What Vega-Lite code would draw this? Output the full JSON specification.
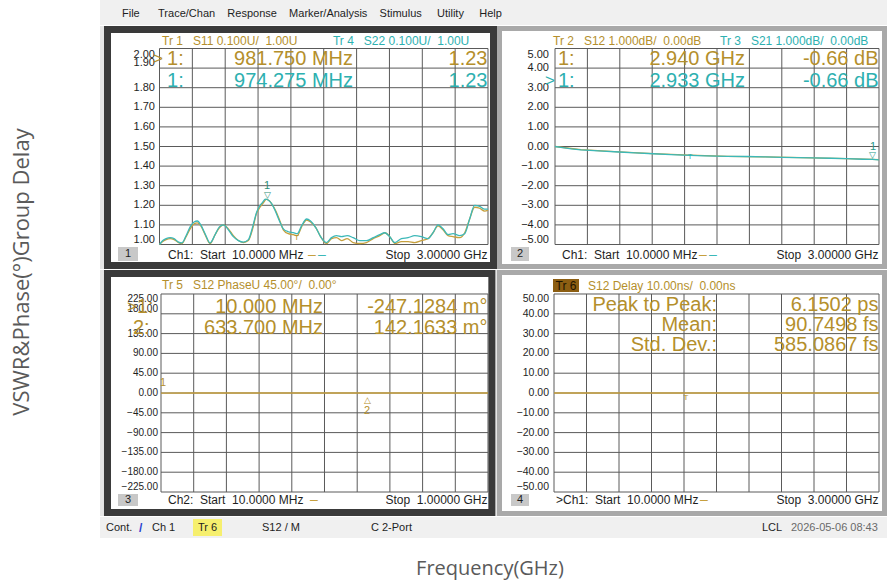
{
 "$schema": "https://vega.github.io/schema/vega-lite/v6.json",
 "padding": 0,
 "background": "#ffffff",
 "bounds": "flush",
 "columns": 3,
 "spacing": {"row": 1, "column": 0},
 "resolve": {"scale": {"x": "independent", "y": "independent", "color": "independent"}},
 "config": {
  "view": {"stroke": null},
  "text": {"font": "Liberation Sans", "baseline": "middle"}
 },
 "concat": [
  {"width": 100, "height": 25, "data": {"values": [{"t": ""}]}, "mark": {"type": "text", "opacity": 0}, "encoding": {"text": {"field": "t"}}},
  {"width": 397, "height": 25, "view": {"fill": "#f0f0f0", "stroke": null}, "data": {"values": [{"t": ""}]}, "mark": {"type": "text", "opacity": 0}, "encoding": {"text": {"field": "t"}}},
  {
   "width": 390, "height": 25,
   "view": {"fill": "#f0f0f0", "stroke": null},
   "data": {"values": [{"t": "File\u00a0\u00a0\u00a0\u00a0\u00a0\u00a0Trace/Chan\u00a0\u00a0\u00a0\u00a0Response\u00a0\u00a0\u00a0\u00a0Marker/Analysis\u00a0\u00a0\u00a0\u00a0Stimulus\u00a0\u00a0\u00a0\u00a0\u00a0Utility\u00a0\u00a0\u00a0\u00a0\u00a0Help"}]},
   "mark": {"type": "text", "align": "left", "fontSize": 11, "color": "#1e1e1e"},
   "encoding": {
    "x": {"datum": -375, "type": "quantitative", "scale": {"domain": [0, 390], "nice": false, "zero": false}, "axis": null},
    "y": {"datum": 11, "type": "quantitative", "scale": {"domain": [0, 25], "nice": false, "zero": false}, "axis": null},
    "text": {"field": "t"}
   }
  },
  {"width": 100, "height": 243, "data": {"values": [{"t": ""}]}, "mark": {"type": "text", "opacity": 0}, "encoding": {"text": {"field": "t"}}},
  {
   "width": 397, "height": 243,
   "view": {"fill": "#e6e6e6", "stroke": null},
   "layer": [
    {"data": {"values": [{"t": "1"}]}, "mark": {"type": "rect", "fill": "#ffffff", "stroke": "#3a3a3a", "strokeWidth": 7},
     "encoding": {
      "x": {"datum": -0.4633, "type": "quantitative", "scale": {"domain": [-0.53157, 3.08192], "nice": false, "zero": false}, "axis": null},
      "x2": {"datum": 3.0501},
      "y": {"datum": 2.0969, "type": "quantitative", "scale": {"domain": [0.875, 2.1148], "nice": false, "zero": false}, "axis": null},
      "y2": {"datum": 0.8929}
     }},
    {"data": {"values": [{"g": 1.0}, {"g": 1.1}, {"g": 1.2}, {"g": 1.3}, {"g": 1.4}, {"g": 1.5}, {"g": 1.6}, {"g": 1.7}, {"g": 1.8}, {"g": 1.9}, {"g": 2.0}]},
     "mark": {"type": "rule", "color": "#5a5a5a", "strokeWidth": 1},
     "encoding": {"y": {"field": "g", "type": "quantitative", "axis": null}, "x": {"datum": 0.01, "type": "quantitative", "axis": null}, "x2": {"datum": 3.0}}},
    {"data": {"values": [{"gx": 0.01}, {"gx": 0.309}, {"gx": 0.608}, {"gx": 0.907}, {"gx": 1.206}, {"gx": 1.505}, {"gx": 1.804}, {"gx": 2.103}, {"gx": 2.402}, {"gx": 2.701}, {"gx": 3.0}]},
     "mark": {"type": "rule", "color": "#5a5a5a", "strokeWidth": 1},
     "encoding": {"x": {"field": "gx", "type": "quantitative", "axis": null}, "y": {"datum": 1.0, "type": "quantitative", "axis": null}, "y2": {"datum": 2.0}}},
    {"data": {"values": [{"g": 1.1}, {"g": 1.2}, {"g": 1.3}, {"g": 1.4}, {"g": 1.5}, {"g": 1.6}, {"g": 1.7}, {"g": 1.8}]},
     "mark": {"type": "text", "align": "right", "baseline": "middle", "fontSize": 11, "color": "#1e1e1e"},
     "encoding": {"y": {"field": "g", "type": "quantitative", "axis": null}, "x": {"datum": -0.031, "type": "quantitative", "axis": null}, "text": {"field": "g", "type": "quantitative", "format": ".2f"}}},
    {"data": {"values": [{"g": 2.0}]},
     "mark": {"type": "text", "align": "right", "baseline": "top", "fontSize": 11, "color": "#1e1e1e"},
     "encoding": {"y": {"field": "g", "type": "quantitative", "axis": null}, "x": {"datum": -0.031, "type": "quantitative", "axis": null}, "text": {"field": "g", "type": "quantitative", "format": ".2f"}}},
    {"data": {"values": [{"g": 1.0}, {"g": 1.9}]},
     "mark": {"type": "text", "align": "right", "baseline": "bottom", "fontSize": 11, "color": "#1e1e1e"},
     "encoding": {"y": {"field": "g", "type": "quantitative", "axis": null}, "x": {"datum": -0.031, "type": "quantitative", "axis": null}, "text": {"field": "g", "type": "quantitative", "format": ".2f"}}},
    {"data": {"values": [
      {"f":0.01,"v":1.0},{"f":0.04,"v":1.015},{"f":0.07,"v":1.025},{"f":0.107,"v":1.03},{"f":0.143,"v":1.025},{"f":0.183,"v":1.01},{"f":0.213,"v":1.005},{"f":0.252,"v":1.04},{"f":0.289,"v":1.08},{"f":0.325,"v":1.105},{"f":0.355,"v":1.11},{"f":0.386,"v":1.095},{"f":0.425,"v":1.05},{"f":0.47,"v":1.005},{"f":0.516,"v":1.05},{"f":0.555,"v":1.085},{"f":0.592,"v":1.1},{"f":0.637,"v":1.08},{"f":0.682,"v":1.045},{"f":0.728,"v":1.02},{"f":0.773,"v":1.01},{"f":0.819,"v":1.02},{"f":0.858,"v":1.08},{"f":0.894,"v":1.16},{"f":0.925,"v":1.19},{"f":0.955,"v":1.213},{"f":0.982,"v":1.23},{"f":1.012,"v":1.222},{"f":1.04,"v":1.2},{"f":1.07,"v":1.17},{"f":1.106,"v":1.12},{"f":1.137,"v":1.075},{"f":1.182,"v":1.055},{"f":1.228,"v":1.05},{"f":1.264,"v":1.045},{"f":1.303,"v":1.09},{"f":1.349,"v":1.125},{"f":1.385,"v":1.115},{"f":1.434,"v":1.085},{"f":1.476,"v":1.04},{"f":1.53,"v":1.005},{"f":1.576,"v":1.03},{"f":1.621,"v":1.035},{"f":1.667,"v":1.02},{"f":1.718,"v":1.03},{"f":1.773,"v":1.01},{"f":1.833,"v":1.005},{"f":1.894,"v":1.01},{"f":1.955,"v":1.03},{"f":2.015,"v":1.045},{"f":2.061,"v":1.06},{"f":2.106,"v":1.04},{"f":2.152,"v":1.005},{"f":2.212,"v":1.015},{"f":2.273,"v":1.015},{"f":2.333,"v":1.01},{"f":2.394,"v":1.02},{"f":2.454,"v":1.03},{"f":2.5,"v":1.06},{"f":2.545,"v":1.095},{"f":2.591,"v":1.075},{"f":2.636,"v":1.045},{"f":2.682,"v":1.04},{"f":2.742,"v":1.035},{"f":2.788,"v":1.06},{"f":2.833,"v":1.13},{"f":2.878,"v":1.19},{"f":2.924,"v":1.185},{"f":2.97,"v":1.17},{"f":3.0,"v":1.175}]},
     "mark": {"type": "line", "color": "#c6a03e", "strokeWidth": 1.3, "interpolate": "monotone"},
     "encoding": {"x": {"field": "f", "type": "quantitative", "axis": null}, "y": {"field": "v", "type": "quantitative", "axis": null}}},
    {"data": {"values": [
      {"f":0.01,"v":1.0},{"f":0.04,"v":1.02},{"f":0.07,"v":1.03},{"f":0.107,"v":1.035},{"f":0.143,"v":1.03},{"f":0.183,"v":1.012},{"f":0.213,"v":1.008},{"f":0.252,"v":1.045},{"f":0.289,"v":1.09},{"f":0.325,"v":1.115},{"f":0.355,"v":1.12},{"f":0.386,"v":1.1},{"f":0.425,"v":1.055},{"f":0.47,"v":1.008},{"f":0.516,"v":1.05},{"f":0.555,"v":1.09},{"f":0.592,"v":1.1},{"f":0.637,"v":1.075},{"f":0.682,"v":1.04},{"f":0.728,"v":1.02},{"f":0.773,"v":1.012},{"f":0.819,"v":1.025},{"f":0.858,"v":1.09},{"f":0.894,"v":1.165},{"f":0.92,"v":1.195},{"f":0.948,"v":1.215},{"f":0.974,"v":1.232},{"f":1.005,"v":1.225},{"f":1.035,"v":1.205},{"f":1.065,"v":1.17},{"f":1.106,"v":1.115},{"f":1.137,"v":1.08},{"f":1.182,"v":1.065},{"f":1.228,"v":1.06},{"f":1.264,"v":1.055},{"f":1.303,"v":1.095},{"f":1.349,"v":1.13},{"f":1.385,"v":1.12},{"f":1.434,"v":1.085},{"f":1.476,"v":1.04},{"f":1.53,"v":1.01},{"f":1.576,"v":1.035},{"f":1.621,"v":1.045},{"f":1.667,"v":1.04},{"f":1.718,"v":1.045},{"f":1.773,"v":1.035},{"f":1.833,"v":1.02},{"f":1.894,"v":1.02},{"f":1.955,"v":1.035},{"f":2.015,"v":1.05},{"f":2.061,"v":1.06},{"f":2.106,"v":1.04},{"f":2.152,"v":1.01},{"f":2.212,"v":1.03},{"f":2.273,"v":1.035},{"f":2.333,"v":1.045},{"f":2.394,"v":1.04},{"f":2.454,"v":1.03},{"f":2.5,"v":1.06},{"f":2.545,"v":1.1},{"f":2.591,"v":1.08},{"f":2.636,"v":1.05},{"f":2.682,"v":1.055},{"f":2.742,"v":1.045},{"f":2.788,"v":1.055},{"f":2.833,"v":1.13},{"f":2.878,"v":1.2},{"f":2.924,"v":1.195},{"f":2.97,"v":1.18},{"f":3.0,"v":1.18}]},
     "mark": {"type": "line", "color": "#3cb8b8", "strokeWidth": 1.3, "interpolate": "monotone"},
     "encoding": {"x": {"field": "f", "type": "quantitative", "axis": null}, "y": {"field": "v", "type": "quantitative", "axis": null}}},
    {"data": {"values": [{"t": "Tr 1\u00a0\u00a0\u00a0S11 0.100U/\u00a0\u00a01.00U"}]}, "mark": {"type": "text", "align": "left", "fontSize": 12, "color": "#b48f2c"}, "encoding": {"x": {"datum": 0.0328, "type": "quantitative", "axis": null}, "y": {"datum": 2.0383, "type": "quantitative", "axis": null}, "text": {"field": "t"}}},
    {"data": {"values": [{"t": "Tr 4\u00a0\u00a0\u00a0S22 0.100U/\u00a0\u00a01.00U"}]}, "mark": {"type": "text", "align": "left", "fontSize": 12, "color": "#2db0b0"}, "encoding": {"x": {"datum": 1.589, "type": "quantitative", "axis": null}, "y": {"datum": 2.0383, "type": "quantitative", "axis": null}, "text": {"field": "t"}}},
    {"data": {"values": [{"t": ">"}]}, "mark": {"type": "text", "align": "left", "fontSize": 17, "color": "#b48f2c"}, "encoding": {"x": {"datum": -0.0492, "type": "quantitative", "axis": null}, "y": {"datum": 1.9464, "type": "quantitative", "axis": null}, "text": {"field": "t"}}},
    {"data": {"values": [{"t": "1:"}]}, "mark": {"type": "text", "align": "left", "fontSize": 20, "color": "#b48f2c"}, "encoding": {"x": {"datum": 0.0783, "type": "quantitative", "axis": null}, "y": {"datum": 1.9464, "type": "quantitative", "axis": null}, "text": {"field": "t"}}},
    {"data": {"values": [{"t": "981.750 MHz"}]}, "mark": {"type": "text", "align": "right", "fontSize": 20, "color": "#b48f2c"}, "encoding": {"x": {"datum": 1.7712, "type": "quantitative", "axis": null}, "y": {"datum": 1.9464, "type": "quantitative", "axis": null}, "text": {"field": "t"}}},
    {"data": {"values": [{"t": "1.23"}]}, "mark": {"type": "text", "align": "right", "fontSize": 20, "color": "#b48f2c"}, "encoding": {"x": {"datum": 2.9955, "type": "quantitative", "axis": null}, "y": {"datum": 1.9464, "type": "quantitative", "axis": null}, "text": {"field": "t"}}},
    {"data": {"values": [{"t": "1:"}]}, "mark": {"type": "text", "align": "left", "fontSize": 20, "color": "#2db0b0"}, "encoding": {"x": {"datum": 0.0783, "type": "quantitative", "axis": null}, "y": {"datum": 1.8342, "type": "quantitative", "axis": null}, "text": {"field": "t"}}},
    {"data": {"values": [{"t": "974.275 MHz"}]}, "mark": {"type": "text", "align": "right", "fontSize": 20, "color": "#2db0b0"}, "encoding": {"x": {"datum": 1.7712, "type": "quantitative", "axis": null}, "y": {"datum": 1.8342, "type": "quantitative", "axis": null}, "text": {"field": "t"}}},
    {"data": {"values": [{"t": "1.23"}]}, "mark": {"type": "text", "align": "right", "fontSize": 20, "color": "#2db0b0"}, "encoding": {"x": {"datum": 2.9955, "type": "quantitative", "axis": null}, "y": {"datum": 1.8342, "type": "quantitative", "axis": null}, "text": {"field": "t"}}},
    {"data": {"values": [{"t": "1"}]}, "mark": {"type": "text", "align": "center", "fontSize": 11, "color": "#2f8f78"}, "encoding": {"x": {"datum": 0.9885, "type": "quantitative", "axis": null}, "y": {"datum": 1.2985, "type": "quantitative", "axis": null}, "text": {"field": "t"}}},
    {"data": {"values": [{"t": "▽"}]}, "mark": {"type": "text", "align": "center", "fontSize": 9, "color": "#2f8f78"}, "encoding": {"x": {"datum": 0.9885, "type": "quantitative", "axis": null}, "y": {"datum": 1.2526, "type": "quantitative", "axis": null}, "text": {"field": "t"}}},
    {"data": {"values": [{"t": "T"}]}, "mark": {"type": "text", "align": "center", "fontSize": 8, "color": "#b48f2c"}, "encoding": {"x": {"datum": 1.259, "type": "quantitative", "axis": null}, "y": {"datum": 1.035, "type": "quantitative", "axis": null}, "text": {"field": "t"}}},
    {"data": {"values": [{"t": "1"}]}, "mark": {"type": "rect", "color": "#c8c8c8"}, "encoding": {"x": {"datum": -0.3677, "type": "quantitative", "axis": null}, "x2": {"datum": -0.1857}, "y": {"datum": 0.9872, "type": "quantitative", "axis": null}, "y2": {"datum": 0.9158}}},
    {"data": {"values": [{"t": "1"}]}, "mark": {"type": "text", "align": "center", "fontSize": 11, "color": "#1e1e1e"}, "encoding": {"x": {"datum": -0.2767, "type": "quantitative", "axis": null}, "y": {"datum": 0.9515, "type": "quantitative", "axis": null}, "text": {"field": "t"}}},
    {"data": {"values": [{"t": "Ch1:\u00a0\u00a0Start\u00a0\u00a010.0000 MHz"}]}, "mark": {"type": "text", "align": "left", "fontSize": 12, "color": "#1e1e1e"}, "encoding": {"x": {"datum": 0.0874, "type": "quantitative", "axis": null}, "y": {"datum": 0.9464, "type": "quantitative", "axis": null}, "text": {"field": "t"}}},
    {"data": {"values": [{"t": "–"}]}, "mark": {"type": "text", "align": "left", "fontSize": 14, "color": "#c6a03e"}, "encoding": {"x": {"datum": 1.3616, "type": "quantitative", "axis": null}, "y": {"datum": 0.9464, "type": "quantitative", "axis": null}, "text": {"field": "t"}}},
    {"data": {"values": [{"t": "–"}]}, "mark": {"type": "text", "align": "left", "fontSize": 14, "color": "#3cb8b8"}, "encoding": {"x": {"datum": 1.4526, "type": "quantitative", "axis": null}, "y": {"datum": 0.9464, "type": "quantitative", "axis": null}, "text": {"field": "t"}}},
    {"data": {"values": [{"t": "Stop\u00a0\u00a03.00000 GHz"}]}, "mark": {"type": "text", "align": "right", "fontSize": 12, "color": "#1e1e1e"}, "encoding": {"x": {"datum": 2.9955, "type": "quantitative", "axis": null}, "y": {"datum": 0.9464, "type": "quantitative", "axis": null}, "text": {"field": "t"}}}
   ]
  },
  {
   "width": 390, "height": 243,
   "view": {"fill": "#e6e6e6", "stroke": null},
   "layer": [
    {"data": {"values": [{"t": "2"}]}, "mark": {"type": "rect", "fill": "#ffffff", "stroke": "#a9a9a9", "strokeWidth": 5},
     "encoding": {
      "x": {"datum": -0.5022, "type": "quantitative", "scale": {"domain": [-0.52525, 3.07383], "nice": false, "zero": false}, "axis": null},
      "x2": {"datum": 3.0508},
      "y": {"datum": 6.0204, "type": "quantitative", "scale": {"domain": [-6.25, 6.148], "nice": false, "zero": false}, "axis": null},
      "y2": {"datum": -6.1224}
     }},
    {"data": {"values": [{"g": -5}, {"g": -4}, {"g": -3}, {"g": -2}, {"g": -1}, {"g": 0}, {"g": 1}, {"g": 2}, {"g": 3}, {"g": 4}, {"g": 5}]},
     "mark": {"type": "rule", "color": "#5a5a5a", "strokeWidth": 1},
     "encoding": {"y": {"field": "g", "type": "quantitative", "axis": null}, "x": {"datum": 0.01, "type": "quantitative", "axis": null}, "x2": {"datum": 3.0}}},
    {"data": {"values": [{"gx": 0.01}, {"gx": 0.309}, {"gx": 0.608}, {"gx": 0.907}, {"gx": 1.206}, {"gx": 1.505}, {"gx": 1.804}, {"gx": 2.103}, {"gx": 2.402}, {"gx": 2.701}, {"gx": 3.0}]},
     "mark": {"type": "rule", "color": "#5a5a5a", "strokeWidth": 1},
     "encoding": {"x": {"field": "gx", "type": "quantitative", "axis": null}, "y": {"datum": -5, "type": "quantitative", "axis": null}, "y2": {"datum": 5}}},
    {"data": {"values": [{"g": -4}, {"g": -3}, {"g": -2}, {"g": -1}, {"g": 0}, {"g": 1}, {"g": 2}, {"g": 3}, {"g": 4}]},
     "mark": {"type": "text", "align": "right", "baseline": "middle", "fontSize": 11, "color": "#1e1e1e"},
     "encoding": {"y": {"field": "g", "type": "quantitative", "axis": null}, "x": {"datum": -0.0454, "type": "quantitative", "axis": null}, "text": {"field": "g", "type": "quantitative", "format": ".2f"}}},
    {"data": {"values": [{"g": 5}]},
     "mark": {"type": "text", "align": "right", "baseline": "top", "fontSize": 11, "color": "#1e1e1e"},
     "encoding": {"y": {"field": "g", "type": "quantitative", "axis": null}, "x": {"datum": -0.0454, "type": "quantitative", "axis": null}, "text": {"field": "g", "type": "quantitative", "format": ".2f"}}},
    {"data": {"values": [{"g": -5}]},
     "mark": {"type": "text", "align": "right", "baseline": "bottom", "fontSize": 11, "color": "#1e1e1e"},
     "encoding": {"y": {"field": "g", "type": "quantitative", "axis": null}, "x": {"datum": -0.0454, "type": "quantitative", "axis": null}, "text": {"field": "g", "type": "quantitative", "format": ".2f"}}},
    {"data": {"values": [{"f":0.01,"v":0.0},{"f":0.25,"v":-0.16},{"f":0.6,"v":-0.27},{"f":0.914,"v":-0.36},{"f":1.256,"v":-0.44},{"f":1.6,"v":-0.5},{"f":1.95,"v":-0.53},{"f":2.39,"v":-0.58},{"f":2.7,"v":-0.62},{"f":2.94,"v":-0.66},{"f":3.0,"v":-0.67}]},
     "mark": {"type": "line", "color": "#c6a03e", "strokeWidth": 1.3},
     "encoding": {"x": {"field": "f", "type": "quantitative", "axis": null}, "y": {"field": "v", "type": "quantitative", "axis": null}}},
    {"data": {"values": [{"f":0.01,"v":0.0},{"f":0.08,"v":-0.06},{"f":0.16,"v":-0.12},{"f":0.25,"v":-0.17},{"f":0.333,"v":-0.2},{"f":0.45,"v":-0.24},{"f":0.6,"v":-0.28},{"f":0.75,"v":-0.33},{"f":0.914,"v":-0.37},{"f":1.08,"v":-0.41},{"f":1.256,"v":-0.45},{"f":1.4,"v":-0.48},{"f":1.6,"v":-0.5},{"f":1.782,"v":-0.51},{"f":1.95,"v":-0.53},{"f":2.1,"v":-0.55},{"f":2.25,"v":-0.57},{"f":2.39,"v":-0.58},{"f":2.55,"v":-0.6},{"f":2.7,"v":-0.62},{"f":2.85,"v":-0.65},{"f":2.94,"v":-0.66},{"f":3.0,"v":-0.68}]},
     "mark": {"type": "line", "color": "#3cb8b8", "strokeWidth": 1.3},
     "encoding": {"x": {"field": "f", "type": "quantitative", "axis": null}, "y": {"field": "v", "type": "quantitative", "axis": null}}},
    {"data": {"values": [{"t": "Tr 2\u00a0\u00a0\u00a0S12 1.000dB/\u00a0\u00a00.00dB"}]}, "mark": {"type": "text", "align": "left", "fontSize": 12, "color": "#b48f2c"}, "encoding": {"x": {"datum": -0.0085, "type": "quantitative", "axis": null}, "y": {"datum": 5.3826, "type": "quantitative", "axis": null}, "text": {"field": "t"}}},
    {"data": {"values": [{"t": "Tr 3\u00a0\u00a0\u00a0S21 1.000dB/\u00a0\u00a00.00dB"}]}, "mark": {"type": "text", "align": "left", "fontSize": 12, "color": "#2db0b0"}, "encoding": {"x": {"datum": 1.5327, "type": "quantitative", "axis": null}, "y": {"datum": 5.3826, "type": "quantitative", "axis": null}, "text": {"field": "t"}}},
    {"data": {"values": [{"t": "1:"}]}, "mark": {"type": "text", "align": "left", "fontSize": 20, "color": "#b48f2c"}, "encoding": {"x": {"datum": 0.0377, "type": "quantitative", "axis": null}, "y": {"datum": 4.4642, "type": "quantitative", "axis": null}, "text": {"field": "t"}}},
    {"data": {"values": [{"t": "2.940 GHz"}]}, "mark": {"type": "text", "align": "right", "fontSize": 20, "color": "#b48f2c"}, "encoding": {"x": {"datum": 1.7634, "type": "quantitative", "axis": null}, "y": {"datum": 4.4642, "type": "quantitative", "axis": null}, "text": {"field": "t"}}},
    {"data": {"values": [{"t": "-0.66 dB"}]}, "mark": {"type": "text", "align": "right", "fontSize": 20, "color": "#b48f2c"}, "encoding": {"x": {"datum": 2.9954, "type": "quantitative", "axis": null}, "y": {"datum": 4.4642, "type": "quantitative", "axis": null}, "text": {"field": "t"}}},
    {"data": {"values": [{"t": ">"}]}, "mark": {"type": "text", "align": "left", "fontSize": 17, "color": "#2db0b0"}, "encoding": {"x": {"datum": -0.0823, "type": "quantitative", "axis": null}, "y": {"datum": 3.3418, "type": "quantitative", "axis": null}, "text": {"field": "t"}}},
    {"data": {"values": [{"t": "1:"}]}, "mark": {"type": "text", "align": "left", "fontSize": 20, "color": "#2db0b0"}, "encoding": {"x": {"datum": 0.0377, "type": "quantitative", "axis": null}, "y": {"datum": 3.3418, "type": "quantitative", "axis": null}, "text": {"field": "t"}}},
    {"data": {"values": [{"t": "2.933 GHz"}]}, "mark": {"type": "text", "align": "right", "fontSize": 20, "color": "#2db0b0"}, "encoding": {"x": {"datum": 1.7634, "type": "quantitative", "axis": null}, "y": {"datum": 3.3418, "type": "quantitative", "axis": null}, "text": {"field": "t"}}},
    {"data": {"values": [{"t": "-0.66 dB"}]}, "mark": {"type": "text", "align": "right", "fontSize": 20, "color": "#2db0b0"}, "encoding": {"x": {"datum": 2.9954, "type": "quantitative", "axis": null}, "y": {"datum": 3.3418, "type": "quantitative", "axis": null}, "text": {"field": "t"}}},
    {"data": {"values": [{"t": "1"}]}, "mark": {"type": "text", "align": "center", "fontSize": 11, "color": "#2a9a8a"}, "encoding": {"x": {"datum": 2.9446, "type": "quantitative", "axis": null}, "y": {"datum": -0.026, "type": "quantitative", "axis": null}, "text": {"field": "t"}}},
    {"data": {"values": [{"t": "▽"}]}, "mark": {"type": "text", "align": "center", "fontSize": 9, "color": "#2a9a8a"}, "encoding": {"x": {"datum": 2.9446, "type": "quantitative", "axis": null}, "y": {"datum": -0.4337, "type": "quantitative", "axis": null}, "text": {"field": "t"}}},
    {"data": {"values": [{"t": "T"}]}, "mark": {"type": "text", "align": "center", "fontSize": 8, "color": "#2db0b0"}, "encoding": {"x": {"datum": 1.2558, "type": "quantitative", "axis": null}, "y": {"datum": -0.561, "type": "quantitative", "axis": null}, "text": {"field": "t"}}},
    {"data": {"values": [{"t": "2"}]}, "mark": {"type": "rect", "color": "#c8c8c8"}, "encoding": {"x": {"datum": -0.396, "type": "quantitative", "axis": null}, "x2": {"datum": -0.2299}, "y": {"datum": -5.1276, "type": "quantitative", "axis": null}, "y2": {"datum": -5.8418}}},
    {"data": {"values": [{"t": "2"}]}, "mark": {"type": "text", "align": "center", "fontSize": 11, "color": "#1e1e1e"}, "encoding": {"x": {"datum": -0.313, "type": "quantitative", "axis": null}, "y": {"datum": -5.4847, "type": "quantitative", "axis": null}, "text": {"field": "t"}}},
    {"data": {"values": [{"t": "Ch1:\u00a0\u00a0Start\u00a0\u00a010.0000 MHz"}]}, "mark": {"type": "text", "align": "left", "fontSize": 12, "color": "#1e1e1e"}, "encoding": {"x": {"datum": 0.0746, "type": "quantitative", "axis": null}, "y": {"datum": -5.5357, "type": "quantitative", "axis": null}, "text": {"field": "t"}}},
    {"data": {"values": [{"t": "–"}]}, "mark": {"type": "text", "align": "left", "fontSize": 14, "color": "#c6a03e"}, "encoding": {"x": {"datum": 1.3389, "type": "quantitative", "axis": null}, "y": {"datum": -5.5357, "type": "quantitative", "axis": null}, "text": {"field": "t"}}},
    {"data": {"values": [{"t": "–"}]}, "mark": {"type": "text", "align": "left", "fontSize": 14, "color": "#3cb8b8"}, "encoding": {"x": {"datum": 1.4312, "type": "quantitative", "axis": null}, "y": {"datum": -5.5357, "type": "quantitative", "axis": null}, "text": {"field": "t"}}},
    {"data": {"values": [{"t": "Stop\u00a0\u00a03.00000 GHz"}]}, "mark": {"type": "text", "align": "right", "fontSize": 12, "color": "#1e1e1e"}, "encoding": {"x": {"datum": 2.9954, "type": "quantitative", "axis": null}, "y": {"datum": -5.5357, "type": "quantitative", "axis": null}, "text": {"field": "t"}}}
   ]
  },
  {
   "width": 100, "height": 246,
   "data": {"values": [{"t": "VSWR&Phase(°)Group Delay"}]},
   "mark": {"type": "text", "angle": 270, "font": "Open Sans", "fontSize": 22, "color": "#5a5a5a", "align": "center", "baseline": "middle"},
   "encoding": {
    "x": {"datum": 22, "type": "quantitative", "scale": {"domain": [0, 100], "nice": false, "zero": false}, "axis": null},
    "y": {"datum": 244, "type": "quantitative", "scale": {"domain": [0, 246], "nice": false, "zero": false}, "axis": null},
    "text": {"field": "t"}
   }
  },
  {
   "width": 397, "height": 246,
   "view": {"fill": "#e6e6e6", "stroke": null},
   "layer": [
    {"data": {"values": [{"t": "3"}]}, "mark": {"type": "rect", "fill": "#ffffff", "stroke": "#3a3a3a", "strokeWidth": 7},
     "encoding": {
      "x": {"datum": -0.152, "type": "quantitative", "scale": {"domain": [-0.17468, 1.02725], "nice": false, "zero": false}, "axis": null},
      "x2": {"datum": 1.01164},
      "y": {"datum": 271.59, "type": "quantitative", "scale": {"domain": [-279.545, 279.545], "nice": false, "zero": false}, "axis": null},
      "y2": {"datum": -271.59}
     }},
    {"data": {"values": [{"g": -225}, {"g": -180}, {"g": -135}, {"g": -90}, {"g": -45}, {"g": 0}, {"g": 45}, {"g": 90}, {"g": 135}, {"g": 180}, {"g": 225}]},
     "mark": {"type": "rule", "color": "#5a5a5a", "strokeWidth": 1},
     "encoding": {"y": {"field": "g", "type": "quantitative", "axis": null}, "x": {"datum": 0.01, "type": "quantitative", "axis": null}, "x2": {"datum": 1.0}}},
    {"data": {"values": [{"gx": 0.01}, {"gx": 0.109}, {"gx": 0.208}, {"gx": 0.307}, {"gx": 0.406}, {"gx": 0.505}, {"gx": 0.604}, {"gx": 0.703}, {"gx": 0.802}, {"gx": 0.901}, {"gx": 1.0}]},
     "mark": {"type": "rule", "color": "#5a5a5a", "strokeWidth": 1},
     "encoding": {"x": {"field": "gx", "type": "quantitative", "axis": null}, "y": {"datum": -225, "type": "quantitative", "axis": null}, "y2": {"datum": 225}}},
    {"data": {"values": [{"g": -180}, {"g": -135}, {"g": -90}, {"g": -45}, {"g": 0}, {"g": 45}, {"g": 90}, {"g": 135}]},
     "mark": {"type": "text", "align": "right", "baseline": "middle", "fontSize": 10, "color": "#1e1e1e"},
     "encoding": {"y": {"field": "g", "type": "quantitative", "axis": null}, "x": {"datum": 0.0009, "type": "quantitative", "axis": null}, "text": {"field": "g", "type": "quantitative", "format": ".2f"}}},
    {"data": {"values": [{"g": 225}]},
     "mark": {"type": "text", "align": "right", "baseline": "top", "fontSize": 10, "color": "#1e1e1e"},
     "encoding": {"y": {"field": "g", "type": "quantitative", "axis": null}, "x": {"datum": 0.0009, "type": "quantitative", "axis": null}, "text": {"field": "g", "type": "quantitative", "format": ".2f"}}},
    {"data": {"values": [{"g": -225}, {"g": 180}]},
     "mark": {"type": "text", "align": "right", "baseline": "bottom", "fontSize": 10, "color": "#1e1e1e"},
     "encoding": {"y": {"field": "g", "type": "quantitative", "axis": null}, "x": {"datum": 0.0009, "type": "quantitative", "axis": null}, "text": {"field": "g", "type": "quantitative", "format": ".2f"}}},
    {"data": {"values": [{"f":0.01,"v":-0.247},{"f":0.1,"v":0.05},{"f":0.2,"v":-0.05},{"f":0.3,"v":0.08},{"f":0.4,"v":0.02},{"f":0.5,"v":0.1},{"f":0.6337,"v":0.142},{"f":0.75,"v":0.05},{"f":0.9,"v":0.0},{"f":1.0,"v":-0.1}]},
     "mark": {"type": "line", "color": "#c6a03e", "strokeWidth": 1.4},
     "encoding": {"x": {"field": "f", "type": "quantitative", "axis": null}, "y": {"field": "v", "type": "quantitative", "axis": null}}},
    {"data": {"values": [{"t": "Tr 5\u00a0\u00a0\u00a0S12 PhaseU 45.00°/\u00a0\u00a00.00°"}]}, "mark": {"type": "text", "align": "left", "fontSize": 12, "color": "#b48f2c"}, "encoding": {"x": {"datum": 0.013, "type": "quantitative", "axis": null}, "y": {"datum": 245.45, "type": "quantitative", "axis": null}, "text": {"field": "t"}}},
    {"data": {"values": [{"t": ">"}]}, "mark": {"type": "text", "align": "left", "fontSize": 17, "color": "#b48f2c"}, "encoding": {"x": {"datum": -0.0929, "type": "quantitative", "axis": null}, "y": {"datum": 195.45, "type": "quantitative", "axis": null}, "text": {"field": "t"}}},
    {"data": {"values": [{"t": "1:"}]}, "mark": {"type": "text", "align": "left", "fontSize": 20, "color": "#b48f2c"}, "encoding": {"x": {"datum": -0.0627, "type": "quantitative", "axis": null}, "y": {"datum": 195.45, "type": "quantitative", "axis": null}, "text": {"field": "t"}}},
    {"data": {"values": [{"t": "10.000 MHz"}]}, "mark": {"type": "text", "align": "right", "fontSize": 20, "color": "#b48f2c"}, "encoding": {"x": {"datum": 0.5005, "type": "quantitative", "axis": null}, "y": {"datum": 195.45, "type": "quantitative", "axis": null}, "text": {"field": "t"}}},
    {"data": {"values": [{"t": "-247.1284 m°"}]}, "mark": {"type": "text", "align": "right", "fontSize": 20, "color": "#b48f2c"}, "encoding": {"x": {"datum": 0.9985, "type": "quantitative", "axis": null}, "y": {"datum": 195.45, "type": "quantitative", "axis": null}, "text": {"field": "t"}}},
    {"data": {"values": [{"t": "2:"}]}, "mark": {"type": "text", "align": "left", "fontSize": 20, "color": "#b48f2c"}, "encoding": {"x": {"datum": -0.0748, "type": "quantitative", "axis": null}, "y": {"datum": 147.73, "type": "quantitative", "axis": null}, "text": {"field": "t"}}},
    {"data": {"values": [{"t": "633.700 MHz"}]}, "mark": {"type": "text", "align": "right", "fontSize": 20, "color": "#b48f2c"}, "encoding": {"x": {"datum": 0.5005, "type": "quantitative", "axis": null}, "y": {"datum": 147.73, "type": "quantitative", "axis": null}, "text": {"field": "t"}}},
    {"data": {"values": [{"t": "142.1633 m°"}]}, "mark": {"type": "text", "align": "right", "fontSize": 20, "color": "#b48f2c"}, "encoding": {"x": {"datum": 0.9985, "type": "quantitative", "axis": null}, "y": {"datum": 147.73, "type": "quantitative", "axis": null}, "text": {"field": "t"}}},
    {"data": {"values": [{"t": "1"}]}, "mark": {"type": "text", "align": "center", "fontSize": 11, "color": "#b48f2c"}, "encoding": {"x": {"datum": 0.016, "type": "quantitative", "axis": null}, "y": {"datum": 22.73, "type": "quantitative", "axis": null}, "text": {"field": "t"}}},
    {"data": {"values": [{"t": "△"}]}, "mark": {"type": "text", "align": "center", "fontSize": 9, "color": "#b48f2c"}, "encoding": {"x": {"datum": 0.6337, "type": "quantitative", "axis": null}, "y": {"datum": -15.9, "type": "quantitative", "axis": null}, "text": {"field": "t"}}},
    {"data": {"values": [{"t": "2"}]}, "mark": {"type": "text", "align": "center", "fontSize": 11, "color": "#b48f2c"}, "encoding": {"x": {"datum": 0.6337, "type": "quantitative", "axis": null}, "y": {"datum": -40.9, "type": "quantitative", "axis": null}, "text": {"field": "t"}}},
    {"data": {"values": [{"t": "3"}]}, "mark": {"type": "rect", "color": "#c8c8c8"}, "encoding": {"x": {"datum": -0.1202, "type": "quantitative", "axis": null}, "x2": {"datum": -0.0596}, "y": {"datum": -229.5, "type": "quantitative", "axis": null}, "y2": {"datum": -256.8}}},
    {"data": {"values": [{"t": "3"}]}, "mark": {"type": "text", "align": "center", "fontSize": 11, "color": "#1e1e1e"}, "encoding": {"x": {"datum": -0.0899, "type": "quantitative", "axis": null}, "y": {"datum": -243.2, "type": "quantitative", "axis": null}, "text": {"field": "t"}}},
    {"data": {"values": [{"t": "Ch2:\u00a0\u00a0Start\u00a0\u00a010.0000 MHz"}]}, "mark": {"type": "text", "align": "left", "fontSize": 12, "color": "#1e1e1e"}, "encoding": {"x": {"datum": 0.0312, "type": "quantitative", "axis": null}, "y": {"datum": -243.2, "type": "quantitative", "axis": null}, "text": {"field": "t"}}},
    {"data": {"values": [{"t": "–"}]}, "mark": {"type": "text", "align": "left", "fontSize": 14, "color": "#c6a03e"}, "encoding": {"x": {"datum": 0.4611, "type": "quantitative", "axis": null}, "y": {"datum": -243.2, "type": "quantitative", "axis": null}, "text": {"field": "t"}}},
    {"data": {"values": [{"t": "Stop\u00a0\u00a01.00000 GHz"}]}, "mark": {"type": "text", "align": "right", "fontSize": 12, "color": "#1e1e1e"}, "encoding": {"x": {"datum": 0.9985, "type": "quantitative", "axis": null}, "y": {"datum": -243.2, "type": "quantitative", "axis": null}, "text": {"field": "t"}}}
   ]
  },
  {
   "width": 390, "height": 246,
   "view": {"fill": "#e6e6e6", "stroke": null},
   "layer": [
    {"data": {"values": [{"t": "4"}]}, "mark": {"type": "rect", "fill": "#ffffff", "stroke": "#a9a9a9", "strokeWidth": 5},
     "encoding": {
      "x": {"datum": -0.4914, "type": "quantitative", "scale": {"domain": [-0.5144, 3.0736], "nice": false, "zero": false}, "axis": null},
      "x2": {"datum": 3.0506},
      "y": {"datum": 60.859, "type": "quantitative", "scale": {"domain": [-62.121, 62.121], "nice": false, "zero": false}, "axis": null},
      "y2": {"datum": -60.859}
     }},
    {"data": {"values": [{"g": -50}, {"g": -40}, {"g": -30}, {"g": -20}, {"g": -10}, {"g": 0}, {"g": 10}, {"g": 20}, {"g": 30}, {"g": 40}, {"g": 50}]},
     "mark": {"type": "rule", "color": "#5a5a5a", "strokeWidth": 1},
     "encoding": {"y": {"field": "g", "type": "quantitative", "axis": null}, "x": {"datum": 0.01, "type": "quantitative", "axis": null}, "x2": {"datum": 3.0}}},
    {"data": {"values": [{"gx": 0.01}, {"gx": 0.309}, {"gx": 0.608}, {"gx": 0.907}, {"gx": 1.206}, {"gx": 1.505}, {"gx": 1.804}, {"gx": 2.103}, {"gx": 2.402}, {"gx": 2.701}, {"gx": 3.0}]},
     "mark": {"type": "rule", "color": "#5a5a5a", "strokeWidth": 1},
     "encoding": {"x": {"field": "gx", "type": "quantitative", "axis": null}, "y": {"datum": -50, "type": "quantitative", "axis": null}, "y2": {"datum": 50}}},
    {"data": {"values": [{"g": -40}, {"g": -30}, {"g": -20}, {"g": -10}, {"g": 0}, {"g": 10}, {"g": 20}, {"g": 30}, {"g": 40}]},
     "mark": {"type": "text", "align": "right", "baseline": "middle", "fontSize": 10.5, "color": "#1e1e1e"},
     "encoding": {"y": {"field": "g", "type": "quantitative", "axis": null}, "x": {"datum": -0.036, "type": "quantitative", "axis": null}, "text": {"field": "g", "type": "quantitative", "format": ".2f"}}},
    {"data": {"values": [{"g": 50}]},
     "mark": {"type": "text", "align": "right", "baseline": "top", "fontSize": 10.5, "color": "#1e1e1e"},
     "encoding": {"y": {"field": "g", "type": "quantitative", "axis": null}, "x": {"datum": -0.036, "type": "quantitative", "axis": null}, "text": {"field": "g", "type": "quantitative", "format": ".2f"}}},
    {"data": {"values": [{"g": -50}]},
     "mark": {"type": "text", "align": "right", "baseline": "bottom", "fontSize": 10.5, "color": "#1e1e1e"},
     "encoding": {"y": {"field": "g", "type": "quantitative", "axis": null}, "x": {"datum": -0.036, "type": "quantitative", "axis": null}, "text": {"field": "g", "type": "quantitative", "format": ".2f"}}},
    {"data": {"values": [{"f":0.01,"v":0.001},{"f":0.3,"v":0.002},{"f":0.6,"v":-0.001},{"f":0.9,"v":0.0009},{"f":1.2,"v":0.003},{"f":1.5,"v":-0.002},{"f":1.8,"v":0.0},{"f":2.1,"v":0.001},{"f":2.4,"v":-0.002},{"f":2.7,"v":0.002},{"f":3.0,"v":0.0}]},
     "mark": {"type": "line", "color": "#c6a03e", "strokeWidth": 1.4},
     "encoding": {"x": {"field": "f", "type": "quantitative", "axis": null}, "y": {"field": "v", "type": "quantitative", "axis": null}}},
    {"data": {"values": [{"t": "Tr 6"}]}, "mark": {"type": "rect", "color": "#8c5e12"}, "encoding": {"x": {"datum": 0.0008, "type": "quantitative", "axis": null}, "x2": {"datum": 0.24}, "y": {"datum": 51.01, "type": "quantitative", "axis": null}, "y2": {"datum": 57.576}}},
    {"data": {"values": [{"t": "Tr 6"}]}, "mark": {"type": "text", "align": "center", "fontSize": 12, "color": "#1e1400"}, "encoding": {"x": {"datum": 0.1204, "type": "quantitative", "axis": null}, "y": {"datum": 54.29, "type": "quantitative", "axis": null}, "text": {"field": "t"}}},
    {"data": {"values": [{"t": "S12 Delay 10.00ns/\u00a0\u00a00.00ns"}]}, "mark": {"type": "text", "align": "left", "fontSize": 12, "color": "#b48f2c"}, "encoding": {"x": {"datum": 0.3228, "type": "quantitative", "axis": null}, "y": {"datum": 54.29, "type": "quantitative", "axis": null}, "text": {"field": "t"}}},
    {"data": {"values": [{"t": "Peak to Peak:"}]}, "mark": {"type": "text", "align": "right", "fontSize": 20, "color": "#b48f2c"}, "encoding": {"x": {"datum": 1.5096, "type": "quantitative", "axis": null}, "y": {"datum": 44.444, "type": "quantitative", "axis": null}, "text": {"field": "t"}}},
    {"data": {"values": [{"t": "6.1502 ps"}]}, "mark": {"type": "text", "align": "right", "fontSize": 20, "color": "#b48f2c"}, "encoding": {"x": {"datum": 2.9954, "type": "quantitative", "axis": null}, "y": {"datum": 44.444, "type": "quantitative", "axis": null}, "text": {"field": "t"}}},
    {"data": {"values": [{"t": "Mean:"}]}, "mark": {"type": "text", "align": "right", "fontSize": 20, "color": "#b48f2c"}, "encoding": {"x": {"datum": 1.5096, "type": "quantitative", "axis": null}, "y": {"datum": 34.343, "type": "quantitative", "axis": null}, "text": {"field": "t"}}},
    {"data": {"values": [{"t": "90.7498 fs"}]}, "mark": {"type": "text", "align": "right", "fontSize": 20, "color": "#b48f2c"}, "encoding": {"x": {"datum": 2.9954, "type": "quantitative", "axis": null}, "y": {"datum": 34.343, "type": "quantitative", "axis": null}, "text": {"field": "t"}}},
    {"data": {"values": [{"t": "Std. Dev.:"}]}, "mark": {"type": "text", "align": "right", "fontSize": 20, "color": "#b48f2c"}, "encoding": {"x": {"datum": 1.5096, "type": "quantitative", "axis": null}, "y": {"datum": 24.242, "type": "quantitative", "axis": null}, "text": {"field": "t"}}},
    {"data": {"values": [{"t": "585.0867 fs"}]}, "mark": {"type": "text", "align": "right", "fontSize": 20, "color": "#b48f2c"}, "encoding": {"x": {"datum": 2.9954, "type": "quantitative", "axis": null}, "y": {"datum": 24.242, "type": "quantitative", "axis": null}, "text": {"field": "t"}}},
    {"data": {"values": [{"t": "T"}]}, "mark": {"type": "text", "align": "center", "fontSize": 8, "color": "#b48f2c"}, "encoding": {"x": {"datum": 1.2244, "type": "quantitative", "axis": null}, "y": {"datum": -2.53, "type": "quantitative", "axis": null}, "text": {"field": "t"}}},
    {"data": {"values": [{"t": "4"}]}, "mark": {"type": "rect", "color": "#c8c8c8"}, "encoding": {"x": {"datum": -0.3856, "type": "quantitative", "axis": null}, "x2": {"datum": -0.22}, "y": {"datum": -51.01, "type": "quantitative", "axis": null}, "y2": {"datum": -57.07}}},
    {"data": {"values": [{"t": "4"}]}, "mark": {"type": "text", "align": "center", "fontSize": 11, "color": "#1e1e1e"}, "encoding": {"x": {"datum": -0.3028, "type": "quantitative", "axis": null}, "y": {"datum": -54.04, "type": "quantitative", "axis": null}, "text": {"field": "t"}}},
    {"data": {"values": [{"t": ">Ch1:\u00a0\u00a0Start\u00a0\u00a010.0000 MHz"}]}, "mark": {"type": "text", "align": "left", "fontSize": 12, "color": "#1e1e1e"}, "encoding": {"x": {"datum": 0.0284, "type": "quantitative", "axis": null}, "y": {"datum": -54.04, "type": "quantitative", "axis": null}, "text": {"field": "t"}}},
    {"data": {"values": [{"t": "–"}]}, "mark": {"type": "text", "align": "left", "fontSize": 14, "color": "#c6a03e"}, "encoding": {"x": {"datum": 1.3532, "type": "quantitative", "axis": null}, "y": {"datum": -54.04, "type": "quantitative", "axis": null}, "text": {"field": "t"}}},
    {"data": {"values": [{"t": "Stop\u00a0\u00a03.00000 GHz"}]}, "mark": {"type": "text", "align": "right", "fontSize": 12, "color": "#1e1e1e"}, "encoding": {"x": {"datum": 2.9954, "type": "quantitative", "axis": null}, "y": {"datum": -54.04, "type": "quantitative", "axis": null}, "text": {"field": "t"}}}
   ]
  },
  {"width": 100, "height": 21, "data": {"values": [{"t": ""}]}, "mark": {"type": "text", "opacity": 0}, "encoding": {"text": {"field": "t"}}},
  {
   "width": 397, "height": 21,
   "view": {"fill": "#f0f0f0", "stroke": null},
   "layer": [
    {"data": {"values": [{"t": "Tr 6"}]}, "mark": {"type": "rect", "color": "#f6ef6e"}, "encoding": {"x": {"datum": 93, "type": "quantitative", "scale": {"domain": [0, 397], "nice": false, "zero": false}, "axis": null}, "x2": {"datum": 122}, "y": {"datum": 2, "type": "quantitative", "scale": {"domain": [0, 21], "nice": false, "zero": false}, "axis": null}, "y2": {"datum": 19}}},
    {"data": {"values": [{"t": "Cont."}]}, "mark": {"type": "text", "align": "left", "fontSize": 11, "color": "#1e1e1e"}, "encoding": {"x": {"datum": 6, "type": "quantitative", "axis": null}, "y": {"datum": 10.5, "type": "quantitative", "axis": null}, "text": {"field": "t"}}},
    {"data": {"values": [{"t": "/"}]}, "mark": {"type": "text", "align": "left", "fontSize": 12, "fontWeight": "bold", "color": "#2a3fd0"}, "encoding": {"x": {"datum": 39, "type": "quantitative", "axis": null}, "y": {"datum": 10.5, "type": "quantitative", "axis": null}, "text": {"field": "t"}}},
    {"data": {"values": [{"t": "Ch 1"}]}, "mark": {"type": "text", "align": "left", "fontSize": 11, "color": "#1e1e1e"}, "encoding": {"x": {"datum": 52, "type": "quantitative", "axis": null}, "y": {"datum": 10.5, "type": "quantitative", "axis": null}, "text": {"field": "t"}}},
    {"data": {"values": [{"t": "Tr 6"}]}, "mark": {"type": "text", "align": "left", "fontSize": 11, "color": "#1e1e1e"}, "encoding": {"x": {"datum": 98, "type": "quantitative", "axis": null}, "y": {"datum": 10.5, "type": "quantitative", "axis": null}, "text": {"field": "t"}}},
    {"data": {"values": [{"t": "S12 / M"}]}, "mark": {"type": "text", "align": "left", "fontSize": 11, "color": "#1e1e1e"}, "encoding": {"x": {"datum": 162, "type": "quantitative", "axis": null}, "y": {"datum": 10.5, "type": "quantitative", "axis": null}, "text": {"field": "t"}}},
    {"data": {"values": [{"t": "C 2-Port"}]}, "mark": {"type": "text", "align": "left", "fontSize": 11, "color": "#1e1e1e"}, "encoding": {"x": {"datum": 271, "type": "quantitative", "axis": null}, "y": {"datum": 10.5, "type": "quantitative", "axis": null}, "text": {"field": "t"}}}
   ]
  },
  {
   "width": 390, "height": 21,
   "view": {"fill": "#f0f0f0", "stroke": null},
   "layer": [
    {"data": {"values": [{"t": "LCL"}]}, "mark": {"type": "text", "align": "left", "fontSize": 11, "color": "#1e1e1e"}, "encoding": {"x": {"datum": 265, "type": "quantitative", "scale": {"domain": [0, 390], "nice": false, "zero": false}, "axis": null}, "y": {"datum": 10.5, "type": "quantitative", "scale": {"domain": [0, 21], "nice": false, "zero": false}, "axis": null}, "text": {"field": "t"}}},
    {"data": {"values": [{"t": "2026-05-06 08:43"}]}, "mark": {"type": "text", "align": "left", "fontSize": 11, "color": "#6a6a6a"}, "encoding": {"x": {"datum": 294, "type": "quantitative", "axis": null}, "y": {"datum": 10.5, "type": "quantitative", "axis": null}, "text": {"field": "t"}}}
   ]
  },
  {"width": 100, "height": 49, "data": {"values": [{"t": ""}]}, "mark": {"type": "text", "opacity": 0}, "encoding": {"text": {"field": "t"}}},
  {
   "width": 397, "height": 49,
   "data": {"values": [{"t": "Frequency(GHz)"}]},
   "mark": {"type": "text", "align": "center", "baseline": "middle", "font": "Open Sans", "fontSize": 20, "color": "#5a5a5a"},
   "encoding": {
    "x": {"datum": 390, "type": "quantitative", "scale": {"domain": [0, 397], "nice": false, "zero": false}, "axis": null},
    "y": {"datum": 19, "type": "quantitative", "scale": {"domain": [0, 49], "nice": false, "zero": false}, "axis": null},
    "text": {"field": "t"}
   }
  },
  {"width": 390, "height": 49, "data": {"values": [{"t": ""}]}, "mark": {"type": "text", "opacity": 0}, "encoding": {"text": {"field": "t"}}}
 ]
}
